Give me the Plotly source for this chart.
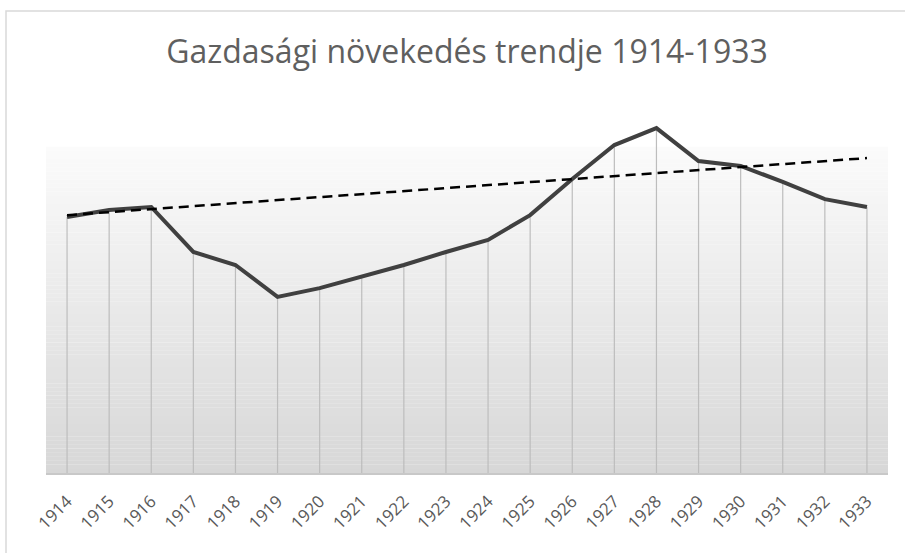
import plotly.graph_objects as go

years = [str(y) for y in range(1914, 1934)]
growth = [78.5, 80.7, 81.6, 67.8, 63.8, 54.0, 56.7, 60.1, 63.8, 67.8,
          71.5, 79.1, 90.2, 100.6, 105.8, 95.7, 94.2, 89.3, 84.0, 81.6]
trend_years = ["1914", "1933"]
trend_values = [79.1, 96.6]
title_text = "Gazdasági növekedés trendje 1914-1933"

W, H = 905, 553
ML, MR, MT, MB = 46, 17, 110, 80
Y_TOP = 100.0      # top of the gradient-filled plot area (value units)
Y_MAX = 111.35     # axis max so that the peak can be drawn above the fill

fig = go.Figure()

# gradient background (light at top, gray at bottom) as stacked bands
n_bands = 80
c_top, c_bot = 251, 215
shapes = []
for i in range(n_bands):
    y0 = Y_TOP * i / n_bands
    y1 = Y_TOP * (i + 1) / n_bands
    t = (i + 0.5) / n_bands
    c = round(c_bot + (c_top - c_bot) * t)
    shapes.append(dict(type="rect", xref="x", yref="y", x0=-0.5, x1=len(years) - 0.5,
                       y0=y0, y1=y1 + 0.05, fillcolor=f"rgb({c},{c},{c})",
                       line=dict(width=0), layer="below"))

# outer chart frame (left and top edges visible)
pw = W - ML - MR
ph = H - MT - MB
shapes.append(dict(type="rect", xref="paper", yref="paper",
                   x0=(6 - ML) / pw, x1=(W + 40 - ML) / pw,
                   y0=-(H + 40 - (H - MB)) / ph,
                   y1=((H - MB) - 11) / ph,
                   line=dict(color="#d9d9d9", width=1.5), fillcolor="rgba(0,0,0,0)",
                   layer="below"))

# drop lines
dx, dy = [], []
for i, v in enumerate(growth):
    dx += [i, i, None]
    dy += [v, 0, None]
fig.add_trace(go.Scatter(x=dx, y=dy, mode="lines",
                         line=dict(color="#bdbdbd", width=1.2),
                         hoverinfo="skip", showlegend=False))

fig.add_trace(go.Scatter(x=list(range(len(years))), y=growth, mode="lines",
                         line=dict(color="#404040", width=4),
                         showlegend=False))

fig.add_trace(go.Scatter(x=[years.index(t) for t in trend_years], y=trend_values,
                         mode="lines",
                         line=dict(color="#000000", width=2.5, dash="10px,6px"),
                         showlegend=False))

fig.update_layout(
    width=W, height=H,
    margin=dict(l=ML, r=MR, t=MT, b=MB),
    paper_bgcolor="white",
    plot_bgcolor="rgba(0,0,0,0)",
    shapes=shapes,
    title=dict(text=title_text, x=0.5, xref="paper", y=1 - 52 / H, yanchor="middle",
               font=dict(family="Open Sans", size=32, color="#5f5f5f")),
    xaxis=dict(range=[-0.5, len(years) - 0.5], tickmode="array",
               tickvals=list(range(len(years))), ticktext=years,
               tickangle=-45, showgrid=False, zeroline=False,
               showline=True, linecolor="#c8c8c8", linewidth=1.5,
               ticks="", ticklabelstandoff=10, automargin=False,
               tickfont=dict(family="Open Sans", size=17, color="#595959")),
    yaxis=dict(range=[0, Y_MAX], showgrid=False, zeroline=False,
               showticklabels=False, showline=False, automargin=False),
)

fig.write_html("out.html",
               config={"displayModeBar": False},
               post_script="document.body.style.margin='0';document.body.style.overflow='hidden';")
